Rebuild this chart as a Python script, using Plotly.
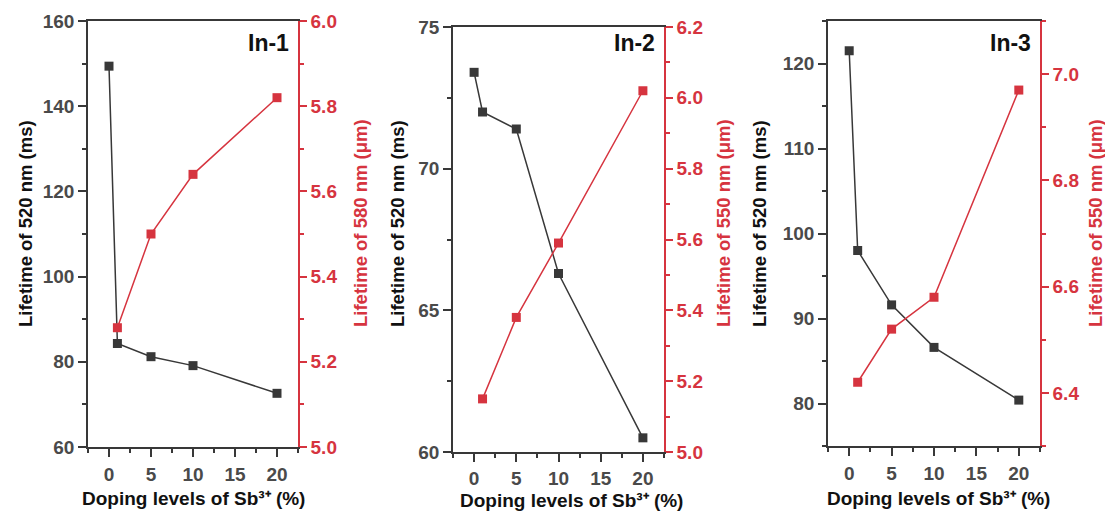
import plotly.graph_objects as go

# ---------------- data ----------------
doping_520 = [0, 1, 5, 10, 20]
doping_red = [1, 5, 10, 20]

in1_520 = [149.4, 84.3, 81.2, 79.1, 72.6]
in1_580 = [5.28, 5.50, 5.64, 5.82]

in2_520 = [73.4, 72.0, 71.4, 66.3, 60.5]
in2_550 = [5.15, 5.38, 5.59, 6.02]

in3_520 = [121.5, 98.0, 91.6, 86.6, 80.4]
in3_550 = [6.42, 6.52, 6.58, 6.97]

panel_labels = ["In-1", "In-2", "In-3"]
left_titles = ["Lifetime of 520 nm (ms)"] * 3
right_titles = ["Lifetime of 580 nm (μm)", "Lifetime of 550 nm (μm)", "Lifetime of 550 nm (μm)"]
x_title = "Doping levels of Sb³⁺ (%)"

# ---------------- styles ----------------
DARK = "#383838"
RED = "#d6343f"
TICKGRAY = "#4a4a4a"
FONT = "Liberation Sans"

# page body has an 8px margin on every side; keep the figure inside the window
OFF = 8
W, H = 1113 - 2 * OFF, 519 - 2 * OFF


def px2x(px):
    return (px - OFF) / W


def py2y(py):
    return 1 - (py - OFF) / H


# pixel boxes (screen coords) of the three plot areas: (left, right, top, bottom)
boxes = [(88, 298, 21, 447), (453, 664, 27, 452), (828, 1040, 21, 446)]
left_ranges = [[60, 160], [60, 75], [75, 125]]
left_tick0 = [60, 60, 80]
left_dticks = [20, 5, 10]
left_minor = [10, 2.5, 5]
right_ranges = [[5.0, 6.0], [5.0, 6.2], [6.3, 7.1]]
right_tick0 = [5.0, 5.0, 6.4]
right_dticks = [0.2, 0.2, 0.2]
right_minor = [0.1, 0.1, 0.1]
left_title_x = [26, 398, 760]
right_title_x = [360, 723, 1095]
x_title_cx = [193, 571, 938]
x_title_cy = [498, 500, 498]
x_label_standoff = [1, 0, 1]

black_data = [in1_520, in2_520, in3_520]
red_data = [in1_580, in2_550, in3_550]

fig = go.Figure()
layout = dict(
    width=W, height=H, autosize=False,
    margin=dict(l=0, r=0, t=0, b=0, pad=0, autoexpand=False),
    paper_bgcolor="white", plot_bgcolor="white",
    showlegend=False,
    annotations=[],
)

tickfont_dark = dict(family=FONT, size=19, color=TICKGRAY, weight="bold")
tickfont_red = dict(family=FONT, size=19, color=RED, weight="bold")

for i in range(3):
    L, R, T, B = boxes[i]
    xd = [px2x(L), px2x(R)]
    yd = [py2y(B), py2y(T)]
    xa = "xaxis" if i == 0 else f"xaxis{i + 1}"
    xref = "x" if i == 0 else f"x{i + 1}"
    ya_l_n = 2 * i + 1
    ya_r_n = 2 * i + 2
    ya_l = "yaxis" if ya_l_n == 1 else f"yaxis{ya_l_n}"
    ya_r = f"yaxis{ya_r_n}"
    yref_l = "y" if ya_l_n == 1 else f"y{ya_l_n}"
    yref_r = f"y{ya_r_n}"

    layout[xa] = dict(
        domain=xd, anchor=yref_l, range=[-2.5, 22.5], automargin=False,
        tickmode="linear", tick0=0, dtick=5,
        ticks="outside", ticklen=8, tickwidth=1.5, tickcolor=DARK,
        ticklabelstandoff=x_label_standoff[i],
        minor=dict(ticks="outside", ticklen=4, tickwidth=1.5, dtick=2.5, tick0=0, tickcolor=DARK, showgrid=False),
        showline=True, linecolor=DARK, linewidth=1.5, mirror=True,
        showgrid=False, zeroline=False,
        tickfont=tickfont_dark,
    )
    layout[ya_l] = dict(
        domain=yd, anchor=xref, range=left_ranges[i], automargin=False,
        tickmode="linear", tick0=left_tick0[i], dtick=left_dticks[i],
        ticks="outside", ticklen=8, tickwidth=1.5, tickcolor=DARK,
        minor=dict(ticks="outside", ticklen=4, tickwidth=1.5, dtick=left_minor[i], tickcolor=DARK, showgrid=False),
        showline=True, linecolor=DARK, linewidth=1.5,
        showgrid=False, zeroline=False,
        tickfont=tickfont_dark,
    )
    layout[ya_r] = dict(
        domain=yd, anchor=xref, overlaying=yref_l, side="right",
        range=right_ranges[i], automargin=False,
        tickmode="linear", tick0=right_tick0[i], dtick=right_dticks[i], tickformat=".1f",
        ticks="outside", ticklen=7, tickwidth=1.5, tickcolor=RED,
        minor=dict(ticks="outside", ticklen=4, tickwidth=1.5, dtick=right_minor[i], tickcolor=RED, showgrid=False),
        showline=True, linecolor=RED, linewidth=1.5,
        showgrid=False, zeroline=False,
        tickfont=tickfont_red,
    )

    fig.add_trace(go.Scatter(
        x=doping_520, y=black_data[i], mode="lines+markers",
        line=dict(color=DARK, width=1.5),
        marker=dict(symbol="square", size=9, color=DARK),
        xaxis=xref, yaxis=yref_l, cliponaxis=False,
    ))
    fig.add_trace(go.Scatter(
        x=doping_red, y=red_data[i], mode="lines+markers",
        line=dict(color=RED, width=1.5),
        marker=dict(symbol="square", size=9, color=RED),
        xaxis=xref, yaxis=yref_r, cliponaxis=False,
    ))

    # panel label
    layout["annotations"].append(dict(
        text=panel_labels[i], xref="paper", yref="paper",
        x=px2x(R - 7), y=py2y(43), xanchor="right", yanchor="middle",
        showarrow=False, font=dict(family=FONT, size=23, color="#111111", weight="bold"),
    ))
    # x title
    layout["annotations"].append(dict(
        text=x_title, xref="paper", yref="paper",
        x=px2x(x_title_cx[i]), y=py2y(x_title_cy[i]), xanchor="center", yanchor="middle",
        showarrow=False, font=dict(family=FONT, size=19, color="#111111", weight="bold"),
    ))
    # left y title
    layout["annotations"].append(dict(
        text=left_titles[i], xref="paper", yref="paper", textangle=-90,
        x=px2x(left_title_x[i]), y=py2y(224), xanchor="center", yanchor="middle",
        showarrow=False, font=dict(family=FONT, size=18.5, color="#111111", weight="bold"),
    ))
    # right y title
    layout["annotations"].append(dict(
        text=right_titles[i], xref="paper", yref="paper", textangle=-90,
        x=px2x(right_title_x[i]), y=py2y(223), xanchor="center", yanchor="middle",
        showarrow=False, font=dict(family=FONT, size=18.5, color=RED, weight="bold"),
    ))

fig.update_layout(**layout)
fig.write_html("out.html")
